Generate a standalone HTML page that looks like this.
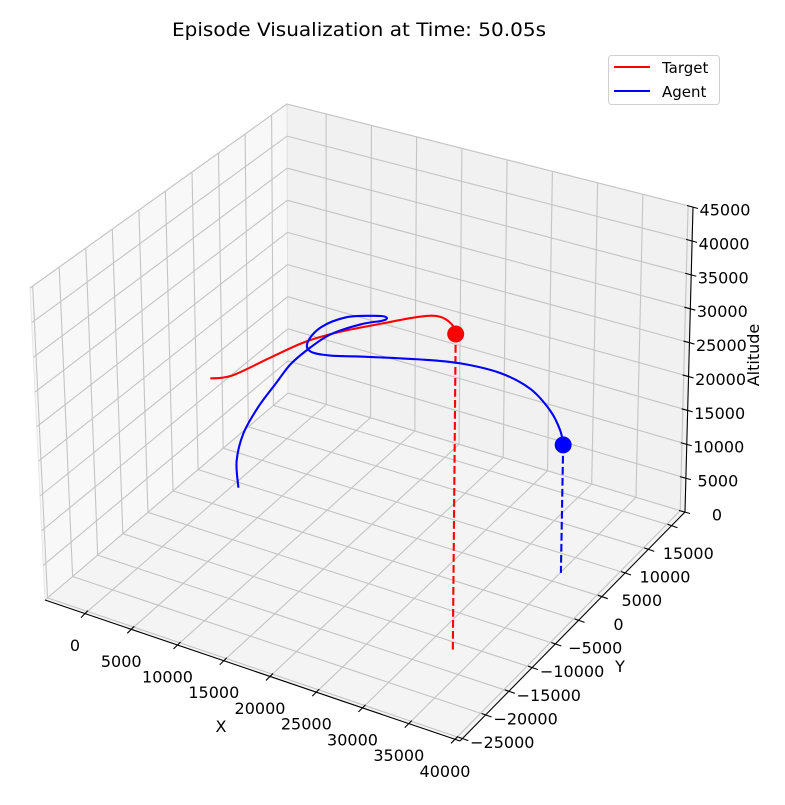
<!DOCTYPE html>
<html><head><meta charset="utf-8">
<style>
html,body{margin:0;padding:0;background:#fff;}
svg{display:block;font-family:"DejaVu Sans","Liberation Sans",sans-serif;}
</style></head>
<body>
<svg id="chart" width="785" height="805" viewBox="0 0 785 805" xmlns="http://www.w3.org/2000/svg">
<text x="359" y="36" text-anchor="middle" font-size="19" textLength="374" lengthAdjust="spacingAndGlyphs" fill="#000">Episode Visualization at Time: 50.05s</text>
<g id="panes"></g>
<g id="grid"></g>
<g id="axes"></g>
<g id="series"></g>
<text x="221" y="732" text-anchor="middle" font-size="16">X</text>
<text x="620" y="672" text-anchor="middle" font-size="16">Y</text>
<text x="759" y="355" text-anchor="middle" font-size="16" transform="rotate(-90 759 355)">Altitude</text>
<g>
<rect x="608.5" y="55.5" width="111" height="49" rx="3" fill="#fff" fill-opacity="0.8" stroke="#d0d0d0"/>
<g>
<line x1="614" y1="67" x2="650" y2="67" stroke="#ff0000" stroke-width="2"/>
<text x="662" y="73" font-size="15">Target</text>
</g>
<g>
<line x1="614" y1="91" x2="650" y2="91" stroke="#0000ff" stroke-width="2"/>
<text x="662" y="97" font-size="15">Agent</text>
</g>
</g>
</svg>
<script>
// ---- data ----
const xTicks = [0,5000,10000,15000,20000,25000,30000,35000,40000];
const xTickLabels = ["0","5000","10000","15000","20000","25000","30000","35000","40000"];
const yTicks = [-25000,-20000,-15000,-10000,-5000,0,5000,10000,15000,20000];
const yTickLabels = ["\u221225000","\u221220000","\u221215000","\u221210000","\u22125000","0","5000","10000","15000",""];
const zTicks = [0,5000,10000,15000,20000,25000,30000,35000,40000,45000];
const zTickLabels = ["0","5000","10000","15000","20000","25000","30000","35000","40000","45000"];

const targetX = [8690,10710,12870,15000,17960,21600,25840,28290,30550,32510];
const targetY = [-15370,-14780,-11250,-8250,-6890,-5610,-5655,-6320,-8220,-11270];
const targetZ = [31500,32400,33750,35100,36900,38700,41400,42750,43650,44850];

const agentX = [4960,4340,4590,5600,6550,7040,8206,9465,11530,13316,13210,12134,10211,9012,9233,10265,12100,14333,18938,22035,25429,28561,31390,33726,35066];
const agentY = [-3575,-2726,-1718,-478,1232,3387,5280,6991,9209,10557,10992,10178,8624,5838,2807,1495,2095,3995,7609,10008,11902,12252,11074,8727,6783];
const agentZ = [6750,9900,13500,17100,19800,21600,23400,24750,25650,26100,26325,26550,26550,26325,26100,25875,25650,25200,24300,23400,22050,20700,19350,18900,18580];

// ---- axis limits & projection ----
const XMIN=-4324, XMAX=40540, YMIN=-25500, YMAX=22900, ZMIN=0, ZMAX=45000;
const C = {
  c000:[45,600], c100:[460,741], c110:[685,512], c010:[288,393],
  c001:[30,288], c101:[465,416], c111:[693,207], c011:[287,104]
};
function proj(x,y,z){
  const u=(x-XMIN)/(XMAX-XMIN), v=(y-YMIN)/(YMAX-YMIN), w=(z-ZMIN)/(ZMAX-ZMIN);
  const r=[0,0];
  for(let i=0;i<2;i++){
    r[i]=(1-u)*(1-v)*(1-w)*C.c000[i]+u*(1-v)*(1-w)*C.c100[i]+u*v*(1-w)*C.c110[i]+(1-u)*v*(1-w)*C.c010[i]
        +(1-u)*(1-v)*w*C.c001[i]+u*(1-v)*w*C.c101[i]+u*v*w*C.c111[i]+(1-u)*v*w*C.c011[i];
  }
  return r;
}
const NS="http://www.w3.org/2000/svg";
function mk(tag,parent){const e=document.createElementNS(NS,tag);parent.appendChild(e);return e;}
function poly(pts){return pts.map(p=>p[0].toFixed(1)+","+p[1].toFixed(1)).join(" ");}

// panes
const panes=document.getElementById('panes');
let pn=mk('polygon',panes);


pn.setAttribute('points',poly([proj(XMIN,YMIN,ZMIN),proj(XMIN,YMAX,ZMIN),proj(XMIN,YMAX,ZMAX),proj(XMIN,YMIN,ZMAX)]));
pn.setAttribute('fill','#f8f8f8');pn.setAttribute('stroke','#e6e6e6');
pn=mk('polygon',panes);


pn.setAttribute('points',poly([proj(XMIN,YMAX,ZMIN),proj(XMAX,YMAX,ZMIN),proj(XMAX,YMAX,ZMAX),proj(XMIN,YMAX,ZMAX)]));
pn.setAttribute('fill','#f1f1f1');pn.setAttribute('stroke','#e0e0e0');
pn=mk('polygon',panes);


pn.setAttribute('points',poly([proj(XMIN,YMIN,ZMIN),proj(XMAX,YMIN,ZMIN),proj(XMAX,YMAX,ZMIN),proj(XMIN,YMAX,ZMIN)]));
pn.setAttribute('fill','#f4f4f4');pn.setAttribute('stroke','#e3e3e3');

// grid
const grid=document.getElementById('grid');
function gline(a,b,name){
  const l=mk('polyline',grid);
  
  
  l.setAttribute('points',poly([a,b]));
  l.setAttribute('stroke','#c4c4c4');l.setAttribute('stroke-width','1.1');l.setAttribute('fill','none');
}
xTicks.forEach(x=>{
  gline(proj(x,YMIN,ZMIN),proj(x,YMAX,ZMIN),'x-grid-floor');
  gline(proj(x,YMAX,ZMIN),proj(x,YMAX,ZMAX),'x-grid-back');
});
yTicks.forEach(y=>{
  gline(proj(XMIN,y,ZMIN),proj(XMAX,y,ZMIN),'y-grid-floor');
  gline(proj(XMIN,y,ZMIN),proj(XMIN,y,ZMAX),'y-grid-left');
});
zTicks.forEach(z=>{
  gline(proj(XMIN,YMIN,z),proj(XMIN,YMAX,z),'z-grid-left');
  gline(proj(XMIN,YMAX,z),proj(XMAX,YMAX,z),'z-grid-back');
});

// axes lines, ticks, labels
const axes=document.getElementById('axes');
function aline(a,b,name){
  const l=mk('line',axes);
  
  
  l.setAttribute('x1',a[0]);l.setAttribute('y1',a[1]);l.setAttribute('x2',b[0]);l.setAttribute('y2',b[1]);
  l.setAttribute('stroke','#000');l.setAttribute('stroke-width','1.1');
}
function label(p,txt,name){
  const t=mk('text',axes);
  
  
  t.setAttribute('x',p[0].toFixed(1));t.setAttribute('y',p[1].toFixed(1));
  t.setAttribute('text-anchor','middle');t.setAttribute('dominant-baseline','central');
  t.setAttribute('font-size','16');
  t.textContent=txt;
}
aline(proj(XMIN,YMIN,ZMIN),proj(XMAX,YMIN,ZMIN),'x-axis-line');
aline(proj(XMAX,YMIN,ZMIN),proj(XMAX,YMAX,ZMIN),'y-axis-line');
aline(proj(XMAX,YMAX,ZMIN),proj(XMAX,YMAX,ZMAX),'z-axis-line');
xTicks.forEach((x,i)=>{
  const p=proj(x,YMIN,ZMIN);
  aline([p[0]-4,p[1]+4],[p[0]+3,p[1]-3],'x-tick');
  label([p[0]-10,p[1]+32],xTickLabels[i],'x-tick-label');
});
yTicks.forEach((y,i)=>{
  const p=proj(XMAX,y,ZMIN);
  aline([p[0]-4,p[1]-1.5],[p[0]+6,p[1]+2],'y-tick');
  if(yTickLabels[i]) label([p[0]+40,p[1]+4],yTickLabels[i],'y-tick-label');
});
zTicks.forEach((z,i)=>{
  const p=proj(XMAX,YMAX,z);
  aline([p[0]-6,p[1]-1.5],[p[0]+5,p[1]+1.5],'z-tick');
  label([p[0]+32,p[1]+3],zTickLabels[i],'z-tick-label');
});

// series
const series=document.getElementById('series');
function smoothPath(pts){
  let d="M"+pts[0][0].toFixed(1)+","+pts[0][1].toFixed(1);
  for(let i=0;i<pts.length-1;i++){
    const p0=pts[Math.max(0,i-1)],p1=pts[i],p2=pts[i+1],p3=pts[Math.min(pts.length-1,i+2)];
    const c1=[p1[0]+(p2[0]-p0[0])/6,p1[1]+(p2[1]-p0[1])/6];
    const c2=[p2[0]-(p3[0]-p1[0])/6,p2[1]-(p3[1]-p1[1])/6];
    d+=" C"+c1[0].toFixed(1)+","+c1[1].toFixed(1)+" "+c2[0].toFixed(1)+","+c2[1].toFixed(1)+" "+p2[0].toFixed(1)+","+p2[1].toFixed(1);
  }
  return d;
}
function drawSeries(X,Y,Z,color,prefix){
  const pts=X.map((x,i)=>proj(x,Y[i],Z[i]));
  const n=X.length-1;
  const g=proj(X[n],Y[n],ZMIN), top=pts[n];
  const dl=mk('line',series);
  
  
  dl.setAttribute('x1',top[0]);dl.setAttribute('y1',top[1]);dl.setAttribute('x2',g[0]);dl.setAttribute('y2',g[1]);
  dl.setAttribute('stroke',color);dl.setAttribute('stroke-width','2.1');dl.setAttribute('stroke-dasharray','7.7,3.3');
  const p=mk('path',series);
  
  
  p.setAttribute('d',smoothPath(pts));
  p.setAttribute('fill','none');p.setAttribute('stroke',color);p.setAttribute('stroke-width','2.1');
  p.setAttribute('stroke-linejoin','round');p.setAttribute('stroke-linecap','butt');
  const m=mk('circle',series);
  
  
  m.setAttribute('cx',top[0]);m.setAttribute('cy',top[1]);m.setAttribute('r','8.5');m.setAttribute('fill',color);
}
drawSeries(targetX,targetY,targetZ,'#ff0000','target');
drawSeries(agentX,agentY,agentZ,'#0000ff','agent');
</script>
</body></html>
